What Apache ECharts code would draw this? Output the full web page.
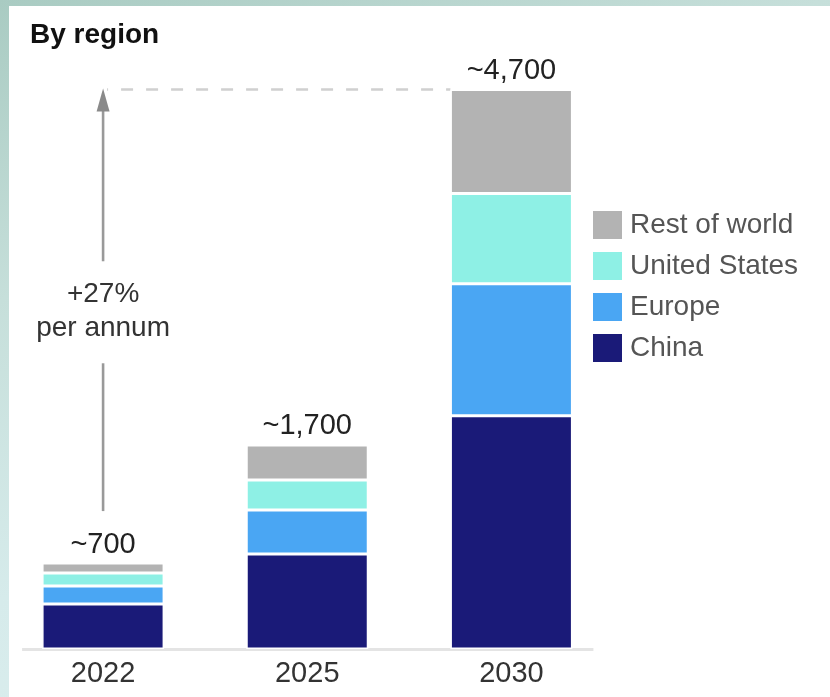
<!DOCTYPE html>
<html>
<head>
<meta charset="utf-8">
<script src="https://cdn.jsdelivr.net/npm/echarts@6/dist/echarts.min.js"></script>
<style>
  html, body { margin: 0; padding: 0; width: 830px; height: 697px; overflow: hidden; }
  body { background: linear-gradient(160deg, #a9cbc2 0%, #c6dfda 30%, #d6ebeb 60%, #dff0f0 100%); position: relative; }
  #panel { position: absolute; left: 9px; top: 6px; right: 0; bottom: 0; background: #ffffff; }
  #chart { position: absolute; left: 0; top: 0; width: 830px; height: 697px; }
</style>
</head>
<body>
<div id="panel"></div>
<div id="chart"></div>
<script>
const categories = ['2022', '2025', '2030'];
const china = [378, 799, 1960];
const europe = [151, 370, 1110];
const unitedStates = [109, 252, 757];
const restOfWorld = [84, 294, 875];
const totalLabels = ['~700', '~1,700', '~4,700'];
const growthLabel = ['+27%', 'per annum'];
const legendOrder = ['Rest of world', 'United States', 'Europe', 'China'];

const colors = {
  'China': '#1a1a78',
  'Europe': '#4aa6f3',
  'United States': '#8ef0e5',
  'Rest of world': '#b3b3b3'
};
const FONT = '"Liberation Sans", Arial, Helvetica, sans-serif';

function mkSeries(name, data, withLabel) {
  const s = {
    name: name,
    type: 'bar',
    stack: 'total',
    data: data,
    barWidth: 122,
    itemStyle: { color: colors[name], borderColor: '#ffffff', borderWidth: 1.5 },
    emphasis: { disabled: true },
    animation: false
  };
  if (withLabel) {
    s.label = {
      show: true,
      position: 'top',
      distance: 4,
      fontFamily: FONT,
      fontSize: 29,
      color: '#222222',
      formatter: p => totalLabels[p.dataIndex]
    };
  }
  return s;
}

const chart = echarts.init(document.getElementById('chart'), null, { renderer: 'canvas' });
chart.setOption({
  animation: false,
  title: {
    text: 'By region',
    left: 30,
    top: 21,
    padding: 0,
    textStyle: { fontFamily: FONT, fontSize: 28, fontWeight: 'bold', color: '#111111' }
  },
  legend: {
    data: legendOrder,
    orient: 'vertical',
    left: 593,
    top: 211,
    padding: 0,
    itemWidth: 29,
    itemHeight: 28,
    itemGap: 13,
    icon: 'rect',
    selectedMode: false,
    itemStyle: { borderWidth: 0 },
    textStyle: { fontFamily: FONT, fontSize: 28, color: '#555555', padding: [0, 0, 0, 3] }
  },
  grid: { left: 1, right: 216.5, top: 54, bottom: 48, containLabel: false },
  xAxis: {
    type: 'category',
    data: categories,
    axisLine: { show: false },
    axisTick: { show: false },
    axisLabel: { fontFamily: FONT, fontSize: 29, color: '#333333', margin: 10 }
  },
  yAxis: {
    type: 'value',
    min: 0,
    max: 5000,
    show: false,
    splitLine: { show: false }
  },
  series: [
    mkSeries('China', china, false),
    mkSeries('Europe', europe, false),
    mkSeries('United States', unitedStates, false),
    mkSeries('Rest of world', restOfWorld, true)
  ]
});

function total(i) { return china[i] + europe[i] + unitedStates[i] + restOfWorld[i]; }
const p0 = chart.convertToPixel({ seriesIndex: 0 }, [0, 0]);
const p2 = chart.convertToPixel({ seriesIndex: 0 }, [2, 0]);
const top2030 = chart.convertToPixel({ seriesIndex: 0 }, [2, total(2)]);
const top2022 = chart.convertToPixel({ seriesIndex: 0 }, [0, total(0)]);
const half = 61;
const ax = p0[0];
const arrowTop = top2030[1];
const arrowBottom = top2022[1] - 52;
const mid = (arrowTop + arrowBottom) / 2 + 11;
const lineStyle = { stroke: '#999999', lineWidth: 2.6 };

chart.setOption({
  graphic: [
    { type: 'line', z: 1, shape: { x1: p0[0] - half - 20, y1: p0[1] + 0.5, x2: p2[0] + half + 21, y2: p0[1] + 0.5 },
      style: { stroke: '#e4e4e4', lineWidth: 3 } },
    { type: 'line', z: 1, shape: { x1: ax + 4, y1: arrowTop, x2: p2[0] - half, y2: arrowTop },
      style: { stroke: '#d0d0d0', lineWidth: 2.5, lineDash: [12, 13], lineDashOffset: -14 } },
    { type: 'line', z: 1, shape: { x1: ax, y1: arrowTop + 18, x2: ax, y2: mid - 50 }, style: lineStyle },
    { type: 'line', z: 1, shape: { x1: ax, y1: mid + 52, x2: ax, y2: arrowBottom }, style: lineStyle },
    { type: 'polygon', z: 1, shape: { points: [[ax, arrowTop - 1], [ax - 6.5, arrowTop + 22], [ax + 6.5, arrowTop + 22]] },
      style: { fill: '#8a8a8a' } },
    { type: 'text', z: 1, x: ax, y: mid - 17,
      style: { text: growthLabel[0], fontFamily: FONT, fontSize: 28, fill: '#333333', align: 'center', verticalAlign: 'middle' } },
    { type: 'text', z: 1, x: ax, y: mid + 17,
      style: { text: growthLabel[1], fontFamily: FONT, fontSize: 28, fill: '#333333', align: 'center', verticalAlign: 'middle' } }
  ]
});
</script>
</body>
</html>
